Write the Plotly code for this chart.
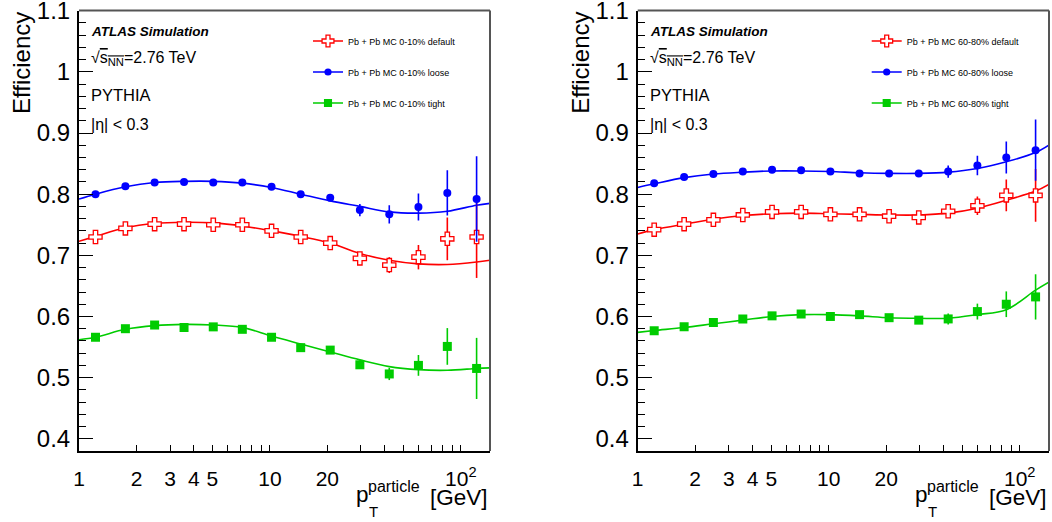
import plotly.graph_objects as go

W, H = 1052, 522

# ---------------- data ----------------
pt = [1.22, 1.75, 2.49, 3.55, 5.05, 7.17, 10.2, 14.5, 20.7, 29.6, 42.2, 60.0, 85.0, 121.0]
fit_x = [1.0, 1.22, 1.75, 2.49, 3.55, 5.05, 7.17, 10.2, 14.5, 20.7, 29.6, 42.2, 60.0, 85.0, 121.0, 142.0]

# 0-10 %
c_def = [0.730, 0.744, 0.751, 0.751, 0.750, 0.750, 0.740, 0.730, 0.720, 0.695, 0.684, 0.697, 0.727, 0.730]
c_def_err = [0.002, 0.002, 0.002, 0.002, 0.002, 0.003, 0.003, 0.004, 0.005, 0.008, 0.013, 0.020, 0.035, 0.067]
c_loose = [0.800, 0.813, 0.819, 0.820, 0.819, 0.819, 0.812, 0.800, 0.794, 0.774, 0.767, 0.779, 0.802, 0.792]
c_loose_err = [0.002, 0.002, 0.002, 0.002, 0.002, 0.002, 0.003, 0.003, 0.005, 0.010, 0.015, 0.022, 0.037, 0.070]
c_tight = [0.566, 0.580, 0.586, 0.582, 0.583, 0.579, 0.566, 0.549, 0.545, 0.521, 0.506, 0.520, 0.551, 0.515]
c_tight_err = [0.002, 0.002, 0.002, 0.002, 0.002, 0.002, 0.003, 0.003, 0.004, 0.007, 0.010, 0.017, 0.030, 0.050]
c_def_fit = [0.723, 0.731, 0.745, 0.752, 0.754, 0.753, 0.748, 0.740, 0.731, 0.720, 0.703, 0.692, 0.686, 0.685, 0.689, 0.692]
c_loose_fit = [0.792, 0.800, 0.812, 0.819, 0.821, 0.821, 0.818, 0.811, 0.800, 0.789, 0.780, 0.771, 0.769, 0.772, 0.782, 0.785]
c_tight_fit = [0.562, 0.566, 0.579, 0.585, 0.587, 0.586, 0.582, 0.568, 0.555, 0.542, 0.529, 0.518, 0.513, 0.512, 0.515, 0.516]

# 60-80 %
p_def = [0.742, 0.751, 0.758, 0.766, 0.771, 0.771, 0.767, 0.767, 0.764, 0.762, 0.772, 0.781, 0.798, 0.798]
p_def_err = [0.002, 0.002, 0.002, 0.002, 0.002, 0.002, 0.002, 0.003, 0.003, 0.004, 0.009, 0.015, 0.026, 0.043]
p_loose = [0.818, 0.828, 0.833, 0.837, 0.840, 0.839, 0.837, 0.834, 0.834, 0.834, 0.837, 0.847, 0.860, 0.872]
p_loose_err = [0.002, 0.002, 0.002, 0.002, 0.002, 0.002, 0.002, 0.002, 0.003, 0.005, 0.010, 0.016, 0.026, 0.050]
p_tight = [0.5765, 0.583, 0.590, 0.596, 0.601, 0.604, 0.600, 0.603, 0.598, 0.594, 0.596, 0.608, 0.620, 0.632]
p_tight_err = [0.002, 0.002, 0.002, 0.002, 0.002, 0.002, 0.002, 0.002, 0.002, 0.003, 0.009, 0.013, 0.021, 0.037]
p_def_fit = [0.735, 0.742, 0.751, 0.759, 0.765, 0.768, 0.769, 0.768, 0.767, 0.766, 0.766, 0.769, 0.777, 0.790, 0.805, 0.816]
p_loose_fit = [0.811, 0.817, 0.827, 0.833, 0.836, 0.838, 0.838, 0.837, 0.835, 0.834, 0.834, 0.836, 0.842, 0.853, 0.868, 0.880]
p_tight_fit = [0.574, 0.577, 0.582, 0.588, 0.594, 0.600, 0.603, 0.603, 0.601, 0.598, 0.597, 0.597, 0.603, 0.611, 0.643, 0.656]

x_tickvals = [1, 2, 3, 4, 5, 10, 20, 100]
x_ticktext = ["1", "2", "3", "4", "5", "10", "20", "10<sup>2</sup>"]
x_minor = [6, 7, 8, 9, 30, 40, 50, 60, 70, 80, 90]
x_major_long = [1, 10, 100]
y_tickvals = [0.4, 0.5, 0.6, 0.7, 0.8, 0.9, 1.0, 1.1]
y_ticktext = ["0.4", "0.5", "0.6", "0.7", "0.8", "0.9", "1", "1.1"]

legend_left = ["Pb + Pb MC 0-10% default", "Pb + Pb MC 0-10% loose", "Pb + Pb MC 0-10% tight"]
legend_right = ["Pb + Pb MC 60-80% default", "Pb + Pb MC 60-80% loose", "Pb + Pb MC 60-80% tight"]

RED, BLUE, GREEN = "#ff0000", "#0000ff", "#00cc00"
FONT = "Liberation Sans, Arial, Helvetica, sans-serif"

# ---------------- figure ----------------
fig = go.Figure()

def marker_style(kind, color, size_scale=1.0):
    if kind == "def":
        return dict(symbol="cross", size=11 * size_scale, color="white", line=dict(color=color, width=1.3))
    if kind == "loose":
        return dict(symbol="circle", size=8 * size_scale, color=color, line=dict(width=0))
    return dict(symbol="square", size=9 * size_scale, color=color, line=dict(width=0))

panels = [
    ("x", "y", "legend", [(c_def, c_def_err, c_def_fit, "def", RED, legend_left[0]),
                          (c_loose, c_loose_err, c_loose_fit, "loose", BLUE, legend_left[1]),
                          (c_tight, c_tight_err, c_tight_fit, "tight", GREEN, legend_left[2])]),
    ("x2", "y2", "legend2", [(p_def, p_def_err, p_def_fit, "def", RED, legend_right[0]),
                             (p_loose, p_loose_err, p_loose_fit, "loose", BLUE, legend_right[1]),
                             (p_tight, p_tight_err, p_tight_fit, "tight", GREEN, legend_right[2])]),
]

for xa, ya, lg, series in panels:
    for vals, errs, fit, kind, col, name in series:
        fig.add_trace(go.Scatter(x=fit_x, y=fit, mode="lines", line=dict(color=col, width=1.6, shape="spline"),
                                 xaxis=xa, yaxis=ya, showlegend=False, hoverinfo="skip"))
    for vals, errs, fit, kind, col, name in series:
        fig.add_trace(go.Scatter(x=pt, y=vals, mode="markers", marker=marker_style(kind, col),
                                 error_y=dict(type="data", array=errs, color=col, thickness=1.6, width=0),
                                 xaxis=xa, yaxis=ya, showlegend=False))
    for i, (vals, errs, fit, kind, col, name) in enumerate(series):
        fig.add_trace(go.Scatter(x=[None], y=[None], mode="lines+markers", name=name,
                                 marker=marker_style(kind, col, 0.9), line=dict(color=col, width=1.6),
                                 xaxis=xa, yaxis=ya, legend=lg, legendgroup=lg + str(i)))

dom_l = [79 / W, 490 / W]
dom_r = [637.7 / W, 1049 / W]
dom_y = [1 - 451 / H, 1 - 10.6 / H]
xr = [0, 2.153]
yr = [0.38, 1.1002]

def xaxis_cfg(dom, anchor):
    return dict(type="log", range=xr, domain=dom, anchor=anchor, showgrid=False, zeroline=False, automargin=False,
                showline=True, linecolor="black", linewidth=2, ticks="inside", ticklen=6, tickwidth=1,
                tickcolor="black", tickvals=x_tickvals, ticktext=x_ticktext, ticklabeloverflow="allow",
                tickfont=dict(family=FONT, size=21, color="black"), ticklabelstandoff=8,
                minor=dict(ticks="inside", tickvals=x_minor, ticklen=6, tickwidth=1, tickcolor="black", showgrid=False))

def xaxis_long(dom, anchor, over):
    return dict(type="log", range=xr, domain=dom, anchor=anchor, overlaying=over, showgrid=False, zeroline=False,
                automargin=False, showline=False, ticks="inside", ticklen=11, tickwidth=1, tickcolor="black",
                tickvals=x_major_long, showticklabels=False)

def yaxis_cfg(anchor):
    return dict(range=yr, domain=dom_y, anchor=anchor, showgrid=False, zeroline=False, automargin=False,
                showline=True, linecolor="black", linewidth=2, ticks="inside", ticklen=14, tickwidth=1,
                tickcolor="black", tickvals=y_tickvals, ticktext=y_ticktext, ticklabeloverflow="allow",
                tickfont=dict(family=FONT, size=24, color="black"), ticklabelstandoff=2,
                minor=dict(ticks="inside", dtick=0.02, tick0=0.4, ticklen=7, tickwidth=1, tickcolor="black", showgrid=False))

legend_common = dict(font=dict(family=FONT, size=9, color="black"), bgcolor="rgba(0,0,0,0)",
                     borderwidth=0, tracegroupgap=12, itemwidth=30, xanchor="left", yanchor="top")

fig.update_layout(
    width=W, height=H, margin=dict(l=0, r=0, t=0, b=0, autoexpand=False),
    paper_bgcolor="white", plot_bgcolor="white",
    xaxis=xaxis_cfg(dom_l, "y"), yaxis=yaxis_cfg("x"),
    xaxis2=xaxis_cfg(dom_r, "y2"), yaxis2=yaxis_cfg("x2"),
    xaxis3=xaxis_long(dom_l, "y", "x"), xaxis4=xaxis_long(dom_r, "y2", "x2"),
    legend=dict(x=308 / W, y=1 - 26.5 / H, **legend_common),
    legend2=dict(x=(308 + 558.7) / W, y=1 - 26.5 / H, **legend_common),
    showlegend=True,
)

# frame top/right lines
for xr_, yr_ in [("x domain", "y domain"), ("x2 domain", "y2 domain")]:
    fig.add_shape(type="line", xref=xr_, yref=yr_, x0=1, x1=1, y0=0, y1=1, line=dict(color="#555555", width=2))
    fig.add_shape(type="line", xref=xr_, yref=yr_, x0=0, x1=1, y0=1, y1=1, line=dict(color="#555555", width=2))

def ann(text, px, py, size, xanchor="left", angle=0, **kw):
    fig.add_annotation(text=text, x=px / W, y=1 - py / H, xref="paper", yref="paper", showarrow=False,
                       xanchor=xanchor, yanchor="middle", textangle=angle,
                       font=dict(family=FONT, size=size, color="black"), **kw)

for off in [0, 558.7]:
    ann("<b><i>ATLAS Simulation</i></b>", 89 + off, 31, 13.5)
    ann("\u221a<span style='text-decoration:overline'>s<sub>NN</sub></span>=2.76 TeV", 89 + off, 58, 16)
    ann("PYTHIA", 89 + off, 95, 16.5)
    ann("|\u03b7| < 0.3", 89 + off, 124, 16)
    ann("Efficiency", 21 + off, 63, 24, xanchor="center", angle=-90)
    ann("[GeV]", 490 + off, 497, 22.5, xanchor="right")
    ann("p", 354 + off, 494, 22.5)
    ann("particle", 366 + off, 486, 16)
    ann("T", 367 + off, 511, 15)

fig.write_html("out.html", config={"displayModeBar": False},
               post_script="document.body.style.margin='0';document.body.style.overflow='hidden';")
